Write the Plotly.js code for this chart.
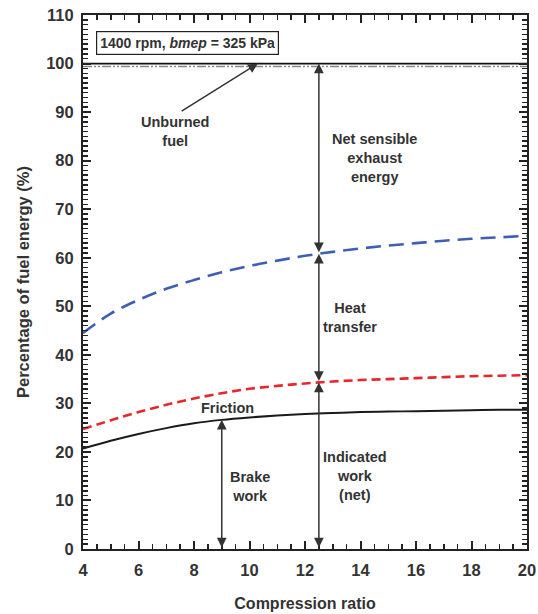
<!DOCTYPE html>
<html>
<head>
<meta charset="utf-8">
<script src="https://cdn.plot.ly/plotly-3.0.1.min.js"></script>
<style>html,body{margin:0;padding:0;background:#fff;}#chart{width:538px;height:614px;}</style>
</head>
<body>
<div id="chart"></div>
<script>
// Data
const compressionRatio = [4,5,6,7,8,9,10,11,12,13,14,15,16,17,18,19,20];
const brakeWork      = [20.7,22.3,23.7,24.9,25.9,26.6,27.1,27.5,27.8,28.0,28.2,28.3,28.4,28.5,28.6,28.7,28.7];
const indicatedWork  = [24.7,26.5,28.2,29.7,31.0,32.1,33.0,33.6,34.1,34.5,34.8,35.0,35.2,35.4,35.6,35.7,35.8];
const plusHeat       = [44.5,48.5,51.3,53.6,55.4,57.0,58.3,59.4,60.4,61.2,61.9,62.5,63.0,63.5,63.9,64.2,64.5];
const totalFuel      = [100,100,100,100,100,100,100,100,100,100,100,100,100,100,100,100,100];
const burnedFuel     = [99.4,99.4,99.4,99.4,99.4,99.4,99.4,99.4,99.4,99.4,99.4,99.4,99.4,99.4,99.4,99.4,99.4];
const xTicks = [4,6,8,10,12,14,16,18,20];
const yTicks = [0,10,20,30,40,50,60,70,80,90,100,110];
const arrowXIndicated = 12.5;
const arrowXBrake = 9;

function interp(xs, ys, x) {
  for (let i = 0; i < xs.length - 1; i++) {
    if (x >= xs[i] && x <= xs[i+1]) {
      const t = (x - xs[i]) / (xs[i+1] - xs[i]);
      return ys[i] + t * (ys[i+1] - ys[i]);
    }
  }
  return ys[ys.length-1];
}

const txtColor = '#333';
const fontFam = 'Liberation Sans, Arial, sans-serif';

const traces = [
  {x: compressionRatio, y: totalFuel, mode:'lines', line:{color:'#111', width:1.8}, hoverinfo:'skip'},
  {x: compressionRatio, y: burnedFuel, mode:'lines', line:{color:'#888', width:1.5, dash:'9px,2px,2px,2px,2px,2px'}, hoverinfo:'skip'},
  {x: compressionRatio, y: plusHeat, mode:'lines', line:{color:'#3d5fb4', width:2.6, dash:'15px,8px', shape:'spline'}},
  {x: compressionRatio, y: indicatedWork, mode:'lines', line:{color:'#e8262b', width:2.6, dash:'9px,5px', shape:'spline'}},
  {x: compressionRatio, y: brakeWork, mode:'lines', line:{color:'#1a1a1a', width:2, shape:'spline'}}
];

const yTop = interp(compressionRatio, totalFuel, arrowXIndicated);
const yBlue = interp(compressionRatio, plusHeat, arrowXIndicated);
const yRed = interp(compressionRatio, indicatedWork, arrowXIndicated);
const yBrake = interp(compressionRatio, brakeWork, arrowXBrake);

function dbl(x, y0, y1) {
  return {x:x, y:y1, ax:x, ay:y0, xref:'x', yref:'y', axref:'x', ayref:'y',
    showarrow:true, arrowhead:2, startarrowhead:2, arrowside:'end+start',
    arrowsize:1.3, arrowwidth:1.5, arrowcolor:'#333', standoff:0, startstandoff:0, text:''};
}
function lbl(x, y, text) {
  return {x:x, y:y, xref:'x', yref:'y', text:text, showarrow:false,
    font:{family:fontFam, size:14.5, color:txtColor, weight:'bold'}, align:'center'};
}

const annotations = [
  dbl(arrowXIndicated, yBlue, yTop),
  dbl(arrowXIndicated, yRed, yBlue),
  dbl(arrowXIndicated, 0, yRed),
  dbl(arrowXBrake, 0, yBrake),
  {x:10.3, y:100, ax:7.5, ay:90, xref:'x', yref:'y', axref:'x', ayref:'y', showarrow:true,
    arrowhead:2, arrowsize:1.3, arrowwidth:1.5, arrowcolor:'#333', standoff:0, text:''},
  lbl(7.3, 85.9, 'Unburned<br>fuel'),
  lbl(14.52, 80.5, 'Net sensible<br>exhaust<br>energy'),
  lbl(13.62, 47.6, 'Heat<br>transfer'),
  lbl(13.8, 15.0, 'Indicated<br>work<br>(net)'),
  lbl(10.0, 12.8, 'Brake<br>work'),
  lbl(9.2, 29.0, 'Friction'),
  {x:0.03, y:0.97, xref:'paper', yref:'paper', xanchor:'left', yanchor:'top', showarrow:false,
    text:'1400 rpm, <i>bmep</i> = 325 kPa', bordercolor:'#222', borderwidth:1.2, borderpad:3,
    font:{family:fontFam, size:14, color:txtColor, weight:'bold'}}
];

const layout = {
  width:538, height:614,
  margin:{l:83, r:11, t:15, b:65},
  paper_bgcolor:'#fff', plot_bgcolor:'#fff',
  showlegend:false,
  xaxis:{range:[4,20], tickvals:xTicks, ticktext:xTicks.map(String),
    ticks:'inside', ticklen:8, tickwidth:2, tickcolor:'#222', ticklabelstandoff:5,
    minor:{dtick:0.5, tick0:4, ticks:'inside', ticklen:5, tickwidth:1.5, tickcolor:'#222', showgrid:false},
    showline:true, linewidth:2, linecolor:'#222', mirror:'allticks', showgrid:false, zeroline:false,
    tickfont:{family:fontFam, size:16.5, color:txtColor, weight:'bold'},
    title:{text:'Compression ratio', standoff:20, font:{family:fontFam, size:16, color:txtColor, weight:'bold'}}},
  yaxis:{range:[0,110], tickvals:yTicks, ticktext:yTicks.map(String),
    ticks:'inside', ticklen:8, tickwidth:2, tickcolor:'#222', ticklabelstandoff:4,
    minor:{dtick:1, tick0:0, ticks:'inside', ticklen:5, tickwidth:1.5, tickcolor:'#222', showgrid:false},
    showline:true, linewidth:2, linecolor:'#222', mirror:'allticks', showgrid:false, zeroline:false,
    tickfont:{family:fontFam, size:16.5, color:txtColor, weight:'bold'},
    title:{text:'Percentage of fuel energy (%)', standoff:12, font:{family:fontFam, size:16.5, color:txtColor, weight:'bold'}}},
  annotations: annotations
};

Plotly.newPlot('chart', traces, layout, {displayModeBar:false, staticPlot:true});
</script>
</body>
</html>
